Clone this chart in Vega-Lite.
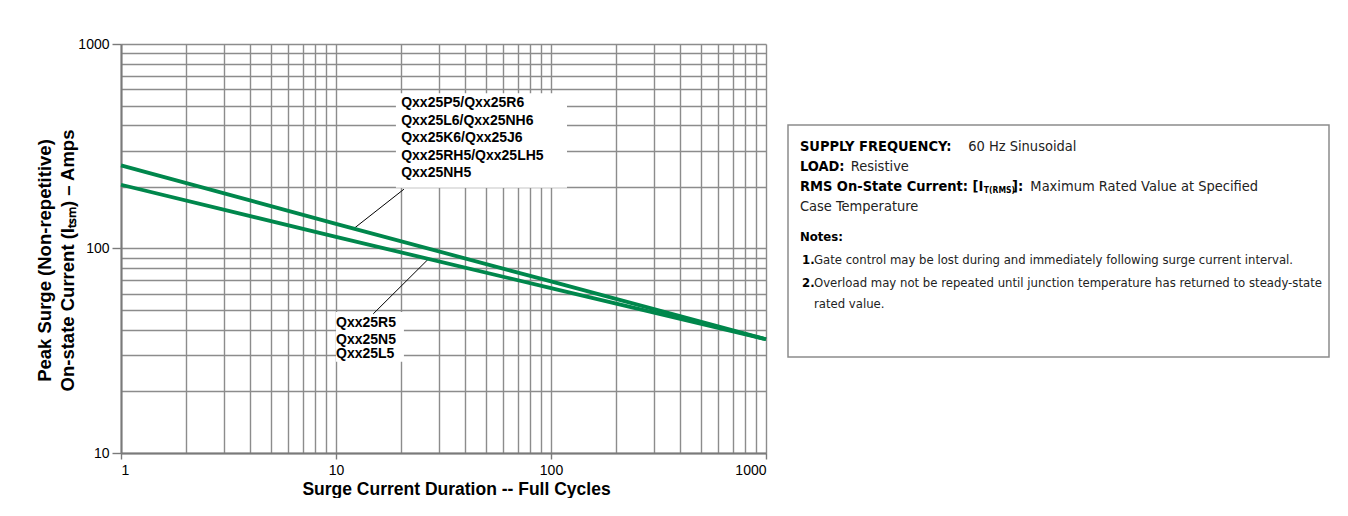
{
  "$schema": "https://vega.github.io/schema/vega-lite/v6.json",
  "padding": {"left": 35, "top": 37, "right": 0, "bottom": 0},
  "background": "white",
  "config": {
    "view": {"stroke": null},
    "font": "Liberation Sans",
    "axis": {"labelFont": "Liberation Sans", "titleFont": "Liberation Sans", "labelColor": "#000", "titleColor": "#000"}
  },
  "spacing": 13,
  "hconcat": [
    {
      "width": 645,
      "height": 409,
      "layer": [
        {
          "data": {"values": [
            {"x": 19.0, "x2": 118.7, "y": 575, "y2": 198},
            {"x": 10.0, "x2": 20.7, "y": 48.9, "y2": 27.9}
          ]},
          "mark": {"type": "rect", "fill": "white"},
          "encoding": {
            "x": {"field": "x", "type": "quantitative", "scale": {"type": "log", "domain": [1, 1000], "nice": false},
              "axis": {"orient": "bottom", "values": [1,2,3,4,5,6,7,8,9,10,20,30,40,50,60,70,80,90,100,200,300,400,500,600,700,800,900,1000],
                "grid": true, "gridColor": "#8c8c8c", "gridWidth": 1.4, "labels": false, "ticks": false, "domain": false, "title": null}},
            "x2": {"field": "x2"},
            "y": {"field": "y", "type": "quantitative", "scale": {"type": "log", "domain": [10, 1000], "nice": false},
              "axis": {"orient": "left", "values": [10,20,30,40,50,60,70,80,90,100,200,300,400,500,600,700,800,900,1000],
                "grid": true, "gridColor": "#8c8c8c", "gridWidth": 1.4, "labels": false, "ticks": false, "domain": false, "title": null}},
            "y2": {"field": "y2"}
          }
        },
        {
          "data": {"values": [
            {"x": 12.2, "y": 126, "x2": 20.7, "y2": 195},
            {"x": 27.1, "y": 89.5, "x2": 14.9, "y2": 47.9}
          ]},
          "mark": {"type": "rule", "color": "#000", "strokeWidth": 1},
          "encoding": {
            "x": {"field": "x", "type": "quantitative", "scale": {"type": "log", "domain": [1, 1000], "nice": false}, "axis": null},
            "x2": {"field": "x2"},
            "y": {"field": "y", "type": "quantitative", "scale": {"type": "log", "domain": [10, 1000], "nice": false}, "axis": null},
            "y2": {"field": "y2"}
          }
        },
        {
          "data": {"values": [
            {"series": "Qxx25P5 group", "cycles": 1, "amps": 255},
            {"series": "Qxx25P5 group", "cycles": 10, "amps": 132},
            {"series": "Qxx25P5 group", "cycles": 100, "amps": 69},
            {"series": "Qxx25P5 group", "cycles": 1000, "amps": 36},
            {"series": "Qxx25R5 group", "cycles": 1, "amps": 205},
            {"series": "Qxx25R5 group", "cycles": 10, "amps": 114},
            {"series": "Qxx25R5 group", "cycles": 100, "amps": 64},
            {"series": "Qxx25R5 group", "cycles": 1000, "amps": 36}
          ]},
          "mark": {"type": "line", "strokeWidth": 3.8, "color": "#00874c"},
          "encoding": {
            "detail": {"field": "series"},
            "x": {"field": "cycles", "type": "quantitative", "scale": {"type": "log", "domain": [1, 1000], "nice": false},
              "axis": {"orient": "bottom", "values": [1, 10, 100, 1000], "format": "d", "grid": false, "domain": true, "domainColor": "#7a7a7a", "domainWidth": 2,
                "ticks": true, "tickColor": "#7a7a7a", "tickWidth": 1.4, "tickSize": 6, "labelFontSize": 14, "labelPadding": 4,
                "title": "Surge Current Duration -- Full Cycles", "titleFontSize": 17.5, "titleFontWeight": "bold", "titlePadding": 3, "titleX": 335}},
            "y": {"field": "amps", "type": "quantitative", "scale": {"type": "log", "domain": [10, 1000], "nice": false},
              "axis": {"orient": "left", "values": [10, 100, 1000], "format": "d", "grid": false, "domain": true, "domainColor": "#7a7a7a", "domainWidth": 2,
                "ticks": true, "tickColor": "#7a7a7a", "tickWidth": 1.4, "tickSize": 9, "labelFontSize": 14, "labelPadding": 3,
                "title": ["Peak Surge (Non-repetitive)", "On-state Current (Iₜₛₘ) – Amps"], "titleFontSize": 18.5, "titleFontWeight": "bold",
                "titleLineHeight": 23, "titlePadding": 0, "titleY": 216}}
          }
        },
        {
          "data": {"values": [
            {"t": "Qxx25P5/Qxx25R6", "x": 20.1, "y": 514.5},
            {"t": "Qxx25L6/Qxx25NH6", "x": 20.1, "y": 420},
            {"t": "Qxx25K6/Qxx25J6", "x": 20.1, "y": 346.7},
            {"t": "Qxx25RH5/Qxx25LH5", "x": 20.1, "y": 283.4},
            {"t": "Qxx25NH5", "x": 20.1, "y": 233.9},
            {"t": "Qxx25R5", "x": 10.0, "y": 43.2},
            {"t": "Qxx25N5", "x": 10.0, "y": 35.5},
            {"t": "Qxx25L5", "x": 10.0, "y": 30.6}
          ]},
          "mark": {"type": "text", "align": "left", "baseline": "middle", "fontSize": 14, "fontWeight": "bold", "color": "#000", "font": "Liberation Sans"},
          "encoding": {
            "text": {"field": "t"},
            "x": {"field": "x", "type": "quantitative", "scale": {"type": "log", "domain": [1, 1000], "nice": false}, "axis": null},
            "y": {"field": "y", "type": "quantitative", "scale": {"type": "log", "domain": [10, 1000], "nice": false}, "axis": null}
          }
        }
      ],
      "resolve": {"axis": {"x": "independent", "y": "independent"}}
    },
    {
      "width": 541,
      "height": 409,
      "layer": [
        {
          "data": {"values": [{}]},
          "mark": {"type": "rect", "fill": "white", "stroke": "#8c8c8c", "strokeWidth": 1.5},
          "encoding": {
            "x": {"datum": 0, "type": "quantitative", "scale": {"domain": [0, 100]}, "axis": null},
            "x2": {"datum": 100},
            "y": {"datum": 19.8, "type": "quantitative", "scale": {"domain": [0, 100], "reverse": true}, "axis": null},
            "y2": {"datum": 76.5}
          }
        },
        {
          "data": {"values": [
            {"t": "SUPPLY FREQUENCY:", "x": 2.2, "y": 25.2},
            {"t": "LOAD:", "x": 2.2, "y": 30.1},
            {"t": "RMS On-State Current: [I", "x": 2.2, "y": 35.0},
            {"t": "]:", "x": 41.4, "y": 35.0}
          ]},
          "mark": {"type": "text", "align": "left", "baseline": "middle", "fontSize": 14.5, "fontWeight": "bold", "font": "DejaVu Sans Condensed, Liberation Sans Narrow, Roboto Condensed, Roboto", "color": "#000"},
          "encoding": {
            "text": {"field": "t"},
            "x": {"field": "x", "type": "quantitative", "scale": {"domain": [0, 100]}, "axis": null},
            "y": {"field": "y", "type": "quantitative", "scale": {"domain": [0, 100], "reverse": true}, "axis": null}
          }
        },
        {
          "data": {"values": [
            {"t": "T(RMS)", "x": 36.2, "y": 35.8}
          ]},
          "mark": {"type": "text", "align": "left", "baseline": "middle", "fontSize": 8.5, "fontWeight": "bold", "font": "DejaVu Sans Condensed, Liberation Sans Narrow, Roboto Condensed, Roboto", "color": "#000"},
          "encoding": {
            "text": {"field": "t"},
            "x": {"field": "x", "type": "quantitative", "scale": {"domain": [0, 100]}, "axis": null},
            "y": {"field": "y", "type": "quantitative", "scale": {"domain": [0, 100], "reverse": true}, "axis": null}
          }
        },
        {
          "data": {"values": [
            {"t": "60 Hz Sinusoidal", "x": 33.3, "y": 25.2},
            {"t": "Resistive", "x": 11.6, "y": 30.1},
            {"t": "Maximum Rated Value at Specified", "x": 44.8, "y": 35.0},
            {"t": "Case Temperature", "x": 2.2, "y": 39.9}
          ]},
          "mark": {"type": "text", "align": "left", "baseline": "middle", "fontSize": 14.5, "font": "DejaVu Sans Condensed, Liberation Sans Narrow, Roboto Condensed, Roboto", "color": "#222"},
          "encoding": {
            "text": {"field": "t"},
            "x": {"field": "x", "type": "quantitative", "scale": {"domain": [0, 100]}, "axis": null},
            "y": {"field": "y", "type": "quantitative", "scale": {"domain": [0, 100], "reverse": true}, "axis": null}
          }
        },
        {
          "data": {"values": [
            {"t": "Notes:", "x": 2.2, "y": 47.2},
            {"t": "1.", "x": 2.6, "y": 52.8},
            {"t": "2.", "x": 2.6, "y": 58.4}
          ]},
          "mark": {"type": "text", "align": "left", "baseline": "middle", "fontSize": 13, "fontWeight": "bold", "font": "DejaVu Sans Condensed, Liberation Sans Narrow, Roboto Condensed, Roboto", "color": "#000"},
          "encoding": {
            "text": {"field": "t"},
            "x": {"field": "x", "type": "quantitative", "scale": {"domain": [0, 100]}, "axis": null},
            "y": {"field": "y", "type": "quantitative", "scale": {"domain": [0, 100], "reverse": true}, "axis": null}
          }
        },
        {
          "data": {"values": [
            {"t": "Gate control may be lost during and immediately following surge current interval.", "x": 4.8, "y": 52.8},
            {"t": "Overload may not be repeated until junction temperature has returned to steady-state", "x": 4.8, "y": 58.4},
            {"t": "rated value.", "x": 4.8, "y": 63.6}
          ]},
          "mark": {"type": "text", "align": "left", "baseline": "middle", "fontSize": 13, "font": "DejaVu Sans Condensed, Liberation Sans Narrow, Roboto Condensed, Roboto", "color": "#222"},
          "encoding": {
            "text": {"field": "t"},
            "x": {"field": "x", "type": "quantitative", "scale": {"domain": [0, 100]}, "axis": null},
            "y": {"field": "y", "type": "quantitative", "scale": {"domain": [0, 100], "reverse": true}, "axis": null}
          }
        }
      ]
    }
  ]
}
